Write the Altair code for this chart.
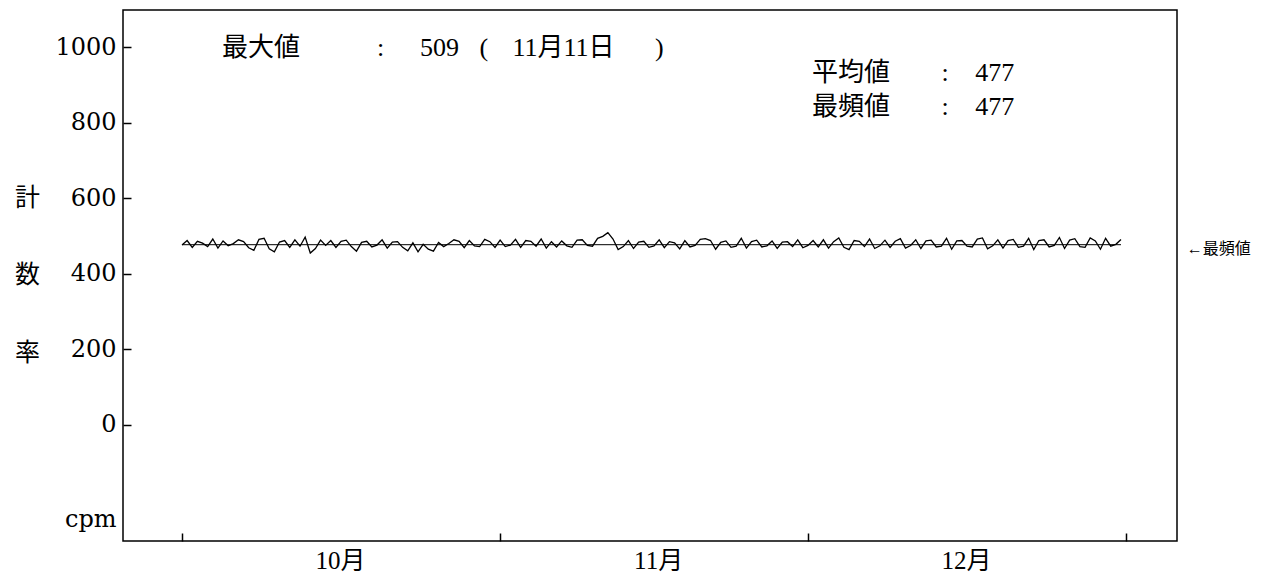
import altair as alt
import pandas as pd

# ---- data (12-hour readings, cpm) ----
oct_vals = [476, 488, 470, 486, 481, 472, 492, 468, 487, 474, 480, 490, 485, 469,
            462, 491, 494, 466, 458, 484, 488, 470, 490, 473, 497, 455, 467, 489,
            475, 488, 470, 486, 489, 472, 460, 483, 486, 471, 476, 490, 468, 484,
            485, 470, 461, 482, 458, 478, 465, 460, 483, 472, 480, 490, 486, 469,
            488, 474, 472, 491, 485, 470]
nov_vals = [489, 472, 476, 491, 470, 488, 486, 473, 492, 468, 485, 471, 487, 474,
            470, 489, 490, 475, 473, 494, 499, 509, 492, 464, 472, 488, 467, 484,
            486, 470, 474, 490, 469, 485, 482, 466, 488, 471, 475, 491, 493, 488,
            465, 483, 487, 470, 473, 494, 468, 485, 489, 471, 474, 487, 467, 484,
            485, 472, 490, 469]
dec_vals = [475, 488, 471, 490, 468, 485, 495, 470, 464, 488, 486, 472, 492, 467,
            474, 489, 470, 486, 493, 468, 475, 490, 467, 487, 489, 471, 473, 494,
            465, 487, 488, 473, 471, 492, 495, 466, 474, 490, 468, 488, 491, 470,
            473, 494, 464, 488, 490, 471, 475, 496, 467, 489, 493, 472, 470, 495,
            487, 465, 494, 473, 478, 491]
values = oct_vals + nov_vals + dec_vals
times = pd.date_range("2011-10-01", periods=len(values), freq="12h")
df = pd.DataFrame({"t": times, "v": values})

mode_value = 477
mode_df = pd.DataFrame({"t": [times[0]], "t2": [times[-1]], "v": [mode_value]})

y_ticks = [-250, 0, 200, 400, 600, 800, 1000]
month_ticks = [alt.DateTime(year=2011, month=10, date=1),
               alt.DateTime(year=2011, month=11, date=1),
               alt.DateTime(year=2011, month=12, date=1),
               alt.DateTime(year=2012, month=1, date=1)]

# annotation texts (day offset from Oct 1, value)
ann_text = ["最大値", ":", "509", "(", "11月11日", ")",
            "平均値", ":", "477", "最頻値", ":", "477"]
ann_day = [3.9, 19.0, 23.2, 29.0, 32.2, 46.1,
           61.4, 74.0, 77.3, 61.4, 74.0, 77.3]
ann_val = [997, 997, 997, 997, 997, 997,
           931, 931, 931, 841, 841, 841]
base = pd.Timestamp("2011-10-01")
ann_df = pd.DataFrame({
    "t": [base + pd.to_timedelta(d, unit="D") for d in ann_day],
    "v": ann_val,
    "label": ann_text,
})
side_df = pd.DataFrame({"t": [base + pd.to_timedelta(97.9, unit="D")],
                        "v": [465], "label": ["←最頻値"]})

JP = "Liberation Serif, Noto Sans CJK JP"
NUM = "DejaVu Serif"

xscale = alt.Scale(domain=[alt.DateTime(year=2011, month=9, date=25, hours=6),
                           alt.DateTime(year=2012, month=1, date=5, hours=23)])
yscale = alt.Scale(domain=[-307, 1098], nice=False, zero=False)

x_axis = alt.Axis(
    values=month_ticks, offset=-8, tickSize=8, tickWidth=1.5, tickColor="black",
    domain=False, grid=False, title=None,
    labelExpr="month(datum.value) == 0 ? '' : (month(datum.value) + 1) + '月'",
    labelOffset=158, labelPadding=7, labelFont=JP, labelFontSize=25,
    labelColor="black", labelOverlap=False, labelBound=False, labelFlush=False,
)
y_axis = alt.Axis(
    values=y_ticks, offset=-8, tickSize=8, tickWidth=1.5, tickColor="black",
    tickOpacity={"condition": {"test": "datum.value < -100", "value": 0}, "value": 1},
    domain=False, grid=False, format="d",
    labelExpr="datum.value < -100 ? 'cpm' : datum.label",
    labelFont=NUM, labelFontSize=24, labelPadding=7, labelColor="black",
    labelOverlap=False, labelBound=False, labelFlush=False,
    title=["計", "数", "率"], titleAngle=0, titleX=-104, titleY=187, titleFont=JP,
    titleFontSize=25, titleFontWeight="normal", titleLineHeight=77.5,
    titleAlign="center", titleBaseline="middle", titleColor="black",
)

line = alt.Chart(df).mark_line(color="black", strokeWidth=1.3).encode(
    x=alt.X("t:T", scale=xscale, axis=x_axis),
    y=alt.Y("v:Q", scale=yscale, axis=y_axis),
)
mode_rule = alt.Chart(mode_df).mark_rule(color="black", strokeWidth=1).encode(
    x=alt.X("t:T", scale=xscale), x2="t2:T",
    y=alt.Y("v:Q", scale=yscale),
)
ann = alt.Chart(ann_df).mark_text(align="left", baseline="middle", font=JP,
                                  fontSize=26, color="black").encode(
    x=alt.X("t:T", scale=xscale), y=alt.Y("v:Q", scale=yscale), text="label:N",
)
side = alt.Chart(side_df).mark_text(align="left", baseline="middle", font=JP,
                                    fontSize=16, color="black").encode(
    x=alt.X("t:T", scale=xscale), y=alt.Y("v:Q", scale=yscale), text="label:N",
)

chart = alt.layer(mode_rule, line, ann, side).properties(
    width=1054, height=531,
    padding={"left": 115, "top": 2, "right": 82, "bottom": 36},
    autosize=alt.AutoSizeParams(type="none"),
).configure_view(stroke="black", strokeWidth=1.5)

chart.save("out.html", embed_options={"renderer": "svg", "actions": False})
